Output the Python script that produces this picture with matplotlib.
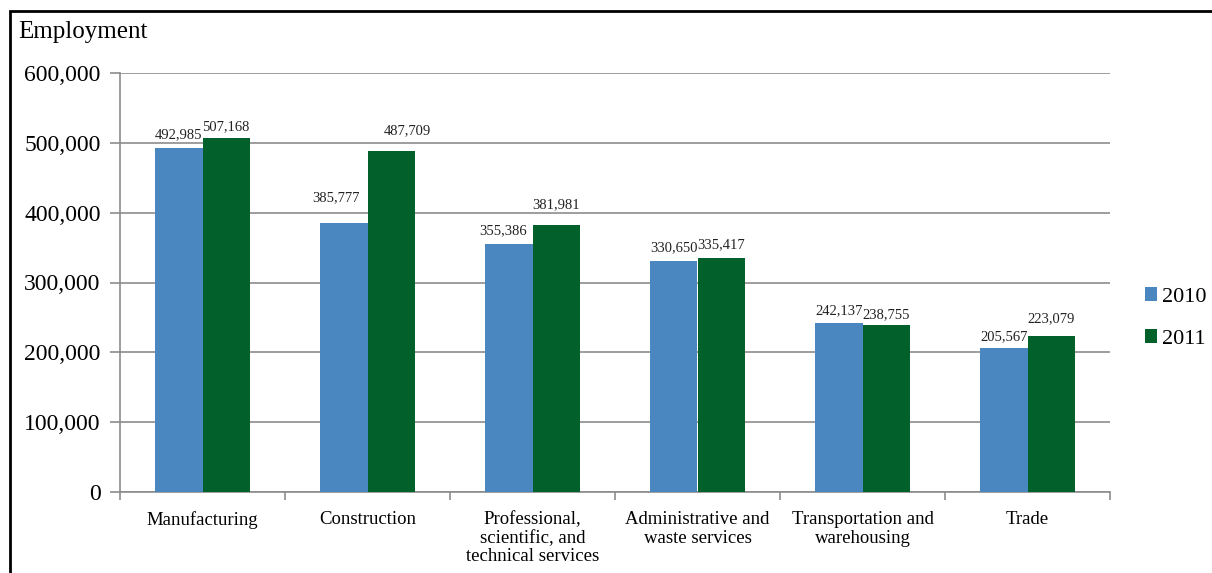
import numpy as np
import matplotlib.pyplot as plt
from matplotlib.patches import Rectangle
from matplotlib.ticker import FuncFormatter

categories = ["Manufacturing", "Construction", "Professional,\nscientific, and\ntechnical services",
              "Administrative and\nwaste services", "Transportation and\nwarehousing", "Trade"]
emp_2010 = [492985, 385777, 355386, 330650, 242137, 205567]
emp_2011 = [507168, 487709, 381981, 335417, 238755, 223079]
years = ["2010", "2011"]

# label nudges (points) the way the original chart placed them
nudge_2010 = [(0, 5), (-6, 13), (-4, 5), (0, 5), (0, 4), (0, 4)]
nudge_2011 = [(0, 3), (12, 10), (0, 10), (0, 5), (0, 3), (0, 8)]

blue = "#4a86c0"
green = "#02612a"
grid_c = "#8c8c8c"

plt.rcParams['font.family'] = ['Liberation Serif', 'DejaVu Serif']

fig = plt.figure(figsize=(12.12, 5.73), dpi=100)
ax = fig.add_axes([120 / 1212, 81 / 573, 990 / 1212, 419 / 573])

x = np.arange(len(categories))
w = 0.285
b1 = ax.bar(x - w / 2, emp_2010, w, color=blue, label=years[0], zorder=3)
b2 = ax.bar(x + w / 2, emp_2011, w, color=green, label=years[1], zorder=3)

for bars, nudges in ((b1, nudge_2010), (b2, nudge_2011)):
    for r, off in zip(bars, nudges):
        v = r.get_height()
        ax.annotate(f"{v:,.0f}", (r.get_x() + r.get_width() / 2, v),
                    xytext=off, textcoords="offset points",
                    ha="center", va="bottom", fontsize=10.5, color="#222222")

ax.set_xlim(-0.5, len(categories) - 0.5)
ax.set_ylim(0, 600000)
ax.set_yticks(np.arange(0, 600001, 100000))
ax.yaxis.set_major_formatter(FuncFormatter(lambda v, p: f"{v:,.0f}"))
ax.grid(axis="y", color=grid_c, linewidth=1.2, zorder=0)

ax.set_xticks(np.arange(-0.5, len(categories), 1))
ax.set_xticklabels([])
ax.set_xticks(x, minor=True)
ax.set_xticklabels(categories, minor=True, fontsize=13.5, linespacing=1.1)
ax.tick_params(axis="x", which="minor", length=0, pad=14)
ax.tick_params(axis="x", which="major", length=6, color=grid_c, width=1.2)
ax.tick_params(axis="y", length=7, color=grid_c, width=1.2, labelsize=17, pad=7)

for s in ("top", "right"):
    ax.spines[s].set_visible(False)
for s in ("left", "bottom"):
    ax.spines[s].set_color(grid_c)
    ax.spines[s].set_linewidth(1.2)

fig.text(18 / 1212, 1 - 32 / 573, "Employment", fontsize=18, va="center", ha="left")

ax.legend(loc="center left", bbox_to_anchor=(1.022, 0.415), frameon=False,
          fontsize=16, handlelength=0.55, handleheight=0.55, handletextpad=0.2,
          labelspacing=1.0, borderaxespad=0.2)

fig.patches.append(Rectangle((10 / 1212, -0.1), 1.2, 1 - 11 / 573 + 0.1,
                             transform=fig.transFigure, fill=False,
                             edgecolor="black", linewidth=2))

fig.savefig("out.png", dpi=100)
